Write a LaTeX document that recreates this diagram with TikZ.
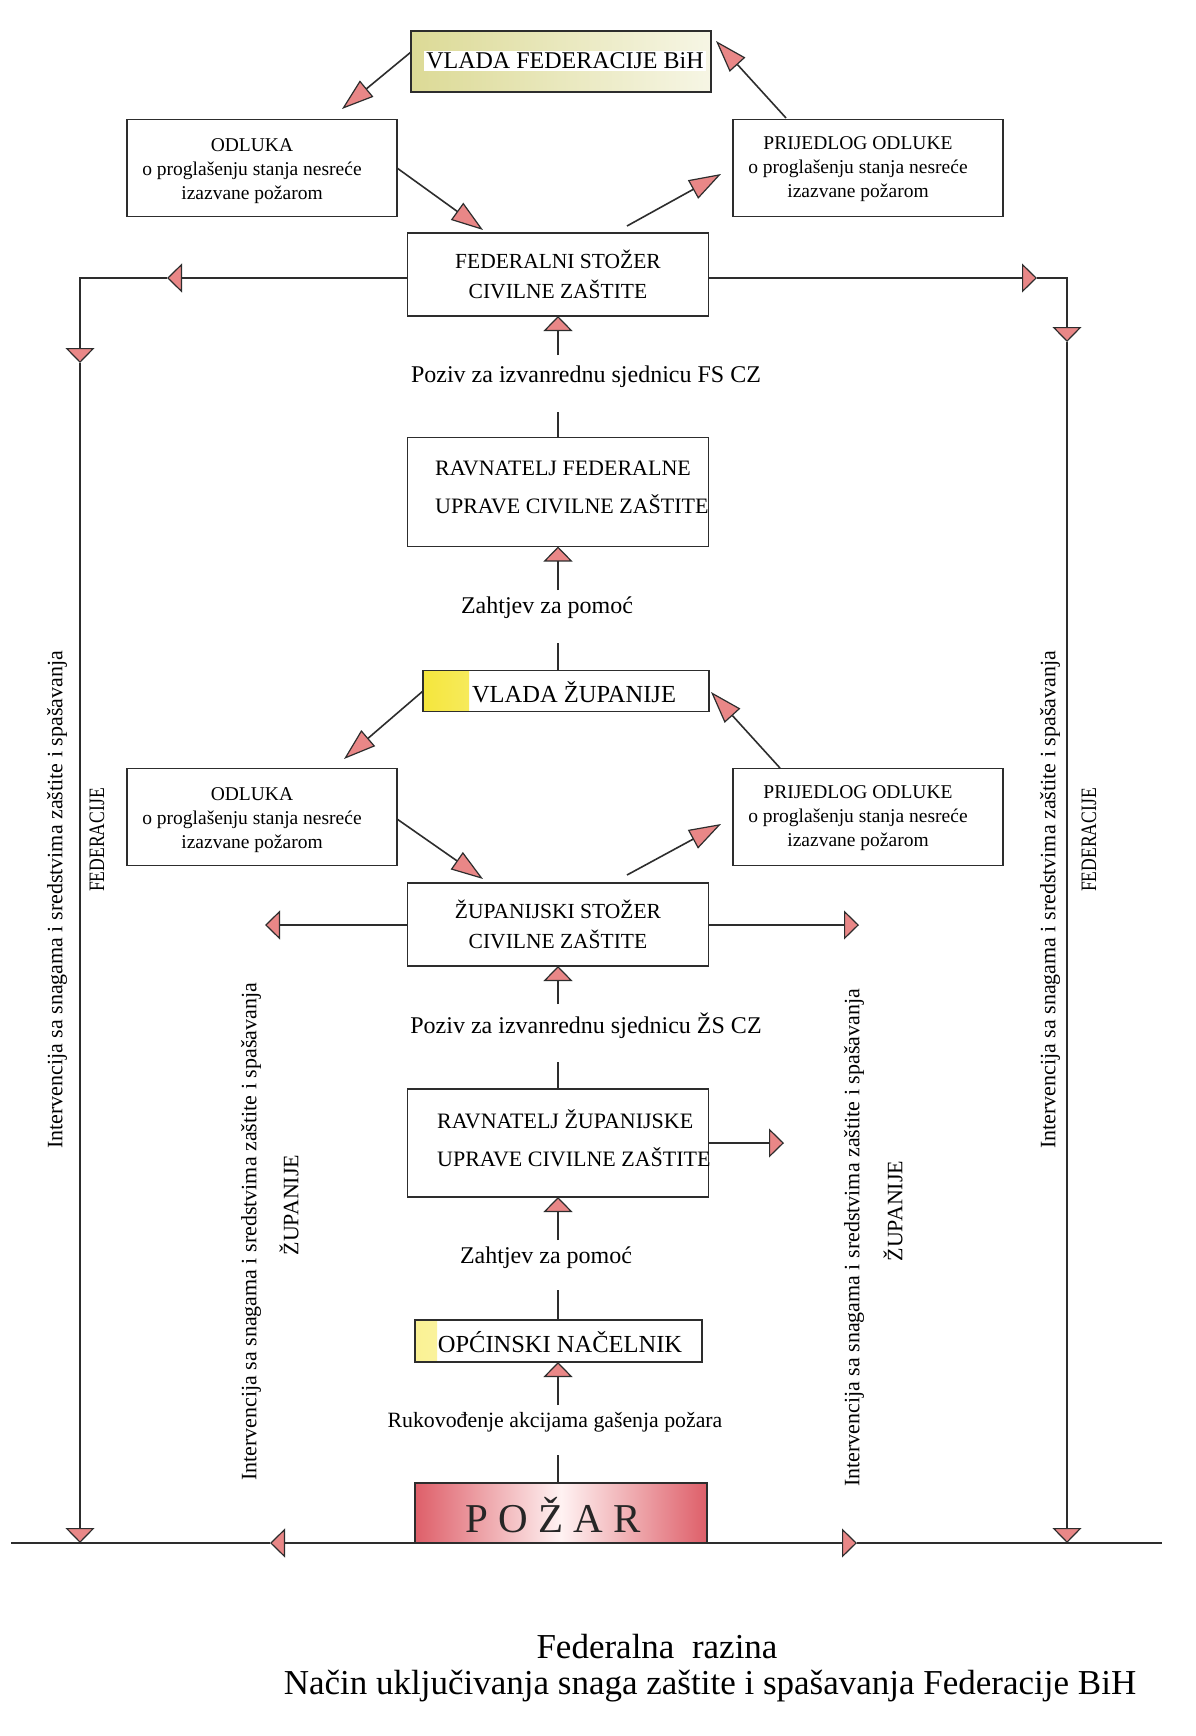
\documentclass[tikz,border=0pt]{standalone}
\usepackage{fontspec}
\setmainfont{Liberation Serif}
\usetikzlibrary{arrows.meta,calc}
\definecolor{linec}{RGB}{45,45,45}
\definecolor{arrfill}{RGB}{233,135,135}
\definecolor{olivey}{RGB}{220,218,150}
\definecolor{brighty}{RGB}{245,230,60}
\definecolor{firered}{RGB}{222,95,105}
\tikzset{
  lines/.style={draw=linec, line width=1.6pt},
  box/.style={draw=linec, line width=1.8pt, inner sep=0pt, outer sep=0pt, align=center},
  wide/.style={minimum width=301pt, minimum height=83pt},
  decbox/.style={minimum width=270pt, minimum height=97pt},
  dtxt/.style={inner sep=0pt, align=center, font=\fontsize{19.5}{24}\selectfont},
  arrH/.style={lines, -{Triangle[length=15pt,width=29pt,fill=arrfill,line width=1.2pt]}},
  arrD/.style={lines, -{Triangle[length=32pt,width=21pt,fill=arrfill,line width=1.2pt]}},
  lbl/.style={inner sep=0pt, font=\fontsize{24}{28}\selectfont},
  vtxt/.style={inner sep=0pt, rotate=90, font=\fontsize{22}{26}\selectfont},
}
\begin{document}
\begin{tikzpicture}[x=1pt,y=-1pt]
\useasboundingbox[fill=white] (0,0) rectangle (1195,1736);

% ---------- coordinates ----------
\coordinate (t1) at (342,109);
\coordinate (t2) at (483,230);
\coordinate (s3) at (627,226);
\coordinate (t3) at (721,174);
\coordinate (s4) at (786,118);
\coordinate (t4) at (716,41);
\coordinate (t5) at (344,759);
\coordinate (t6) at (483,879);
\coordinate (s7) at (627,875);
\coordinate (t7) at (721,824);
\coordinate (s8) at (780,768);
\coordinate (t8) at (711,692);

\coordinate (fl) at (167,278);
\coordinate (flc) at (80,278);
\coordinate (fld) at (80,363);
\coordinate (fr) at (1037,278);
\coordinate (frc) at (1067,278);
\coordinate (frd) at (1067,342);
\coordinate (bL0) at (11,1543);
\coordinate (bR0) at (1162,1543);
\coordinate (bLd) at (80,1543);
\coordinate (bRd) at (1067,1543);
\coordinate (bLa) at (270,1543);
\coordinate (bRa) at (857,1543);

\coordinate (zl) at (265,925);
\coordinate (zr) at (859,925);
\coordinate (rr) at (784,1143);

\coordinate (c1) at (558,355);
\coordinate (c2) at (558,412);
\coordinate (c3) at (558,590);
\coordinate (c4) at (558,643);
\coordinate (c5) at (558,1004);
\coordinate (c6) at (558,1062);
\coordinate (c7) at (558,1240);
\coordinate (c8) at (558,1290);
\coordinate (c9) at (558,1405);
\coordinate (c10) at (558,1455);

% ---------- federal level ----------
\node[box, minimum width=300pt, minimum height=61pt, left color=olivey, right color=olivey!25] (vf) at (561,61.5) {};
\node[fill=white, inner sep=2pt, font=\fontsize{24}{28}\selectfont] (vft) at (565,61) {VLADA FEDERACIJE BiH};

\node[box, decbox] (od1) at (262,168) {};
\node[dtxt] (od1t) at (252,171) {ODLUKA\\o proglašenju stanja nesreće\\izazvane požarom};
\node[box, decbox] (pr1) at (868,168) {};
\node[dtxt] (pr1t) at (858,169) {PRIJEDLOG ODLUKE\\o proglašenju stanja nesreće\\izazvane požarom};

\node[box, wide, font=\fontsize{21.5}{30}\selectfont] (fs) at (558,274.5) {FEDERALNI STOŽER\\CIVILNE ZAŠTITE};

\node[lbl] (lp1) at (586,377) {Poziv za izvanrednu sjednicu FS CZ};

\node[box, minimum width=301pt, minimum height=109pt] (rf) at (558,492) {};
\node[anchor=west, align=left, inner sep=0pt, font=\fontsize{22}{38}\selectfont] (rft) at (435,487) {RAVNATELJ FEDERALNE\\UPRAVE CIVILNE ZAŠTITE};

\node[lbl] (lz1) at (547,608) {Zahtjev za pomoć};

% ---------- county level ----------
\node[box, minimum width=286pt, minimum height=41pt,
  path picture={\shade[left color=brighty, right color=white]
    (path picture bounding box.south west) rectangle ([xshift=46pt]path picture bounding box.north west);}] (vz) at (566,691) {};
\node[inner sep=0pt, font=\fontsize{24.5}{28}\selectfont] (vzt) at (574,692) {VLADA ŽUPANIJE};

\node[box, decbox] (od2) at (262,817) {};
\node[dtxt] (od2t) at (252,820) {ODLUKA\\o proglašenju stanja nesreće\\izazvane požarom};
\node[box, decbox] (pr2) at (868,817) {};
\node[dtxt] (pr2t) at (858,818) {PRIJEDLOG ODLUKE\\o proglašenju stanja nesreće\\izazvane požarom};

\node[box, wide, font=\fontsize{21.5}{30}\selectfont] (zs) at (558,924.5) {ŽUPANIJSKI STOŽER\\CIVILNE ZAŠTITE};

\node[lbl] (lp2) at (586,1026) {Poziv za izvanrednu sjednicu ŽS CZ};

\node[box, minimum width=301pt, minimum height=108pt] (rz) at (558,1143) {};
\node[anchor=west, align=left, inner sep=0pt, font=\fontsize{22}{38}\selectfont] (rzt) at (437,1138) {RAVNATELJ ŽUPANIJSKE\\UPRAVE CIVILNE ZAŠTITE};

\node[lbl] (lz2) at (546,1258) {Zahtjev za pomoć};

% ---------- municipal level ----------
\node[box, minimum width=287pt, minimum height=42pt,
  path picture={\shade[left color=brighty!55, right color=white]
    (path picture bounding box.south west) rectangle ([xshift=22pt]path picture bounding box.north west);}] (on) at (558.5,1341) {};
\node[inner sep=0pt, font=\fontsize{24.5}{28}\selectfont] (ont) at (560,1342) {OPĆINSKI NAČELNIK};

\node[lbl, font=\fontsize{21.8}{26}\selectfont] (lr) at (555,1422) {Rukovođenje akcijama gašenja požara};

\node[box, minimum width=292pt, minimum height=60pt, left color=firered, right color=firered, middle color=white!95!red] (pz) at (561,1513) {};
\node[inner sep=0pt, text=black!85, font=\fontsize{41}{45}\selectfont] (pzt) at (553,1515) {P O Ž A R};

% ---------- vertical side texts ----------
\node[vtxt] (vL1) at (57,900) {Intervencija sa snagama i sredstvima zaštite i spašavanja};
\node[vtxt] (vL2) at (97,840) {\scalebox{0.8}[1]{FEDERACIJE}};
\node[vtxt] (vR1) at (1050,900) {Intervencija sa snagama i sredstvima zaštite i spašavanja};
\node[vtxt] (vR2) at (1089,840) {\scalebox{0.8}[1]{FEDERACIJE}};
\node[vtxt] (vI1) at (251,1232) {Intervencija sa snagama i sredstvima zaštite i spašavanja};
\node[vtxt] (vI2) at (289,1205) {ŽUPANIJE};
\node[vtxt] (vJ1) at (854,1238) {Intervencija sa snagama i sredstvima zaštite i spašavanja};
\node[vtxt] (vJ2) at (893,1211) {ŽUPANIJE};

% ---------- caption ----------
\node[inner sep=0pt, font=\fontsize{35}{40}\selectfont] (cap1) at (657,1647) {Federalna\ \ razina};
\node[inner sep=0pt, font=\fontsize{35}{40}\selectfont] (cap2) at (710,1686) {Način uključivanja snaga zaštite i spašavanja Federacije BiH};

% ---------- diagonal arrows ----------
\draw[arrD] ($(vf.west)+(0,-9.5)$) -- (t1);
\draw[arrD] (od1.east) -- (t2);
\draw[arrD] (s3) -- (t3);
\draw[arrD] (s4) -- (t4);
\draw[arrD] (vz.west) -- (t5);
\draw[arrD] ($(od2.east)+(0,2)$) -- (t6);
\draw[arrD] (s7) -- (t7);
\draw[arrD] (s8) -- (t8);

% ---------- central chain ----------
\draw[arrH] (c1) -- (c1 |- fs.south);
\draw[lines] (c2) -- (c2 |- rf.north);
\draw[arrH] (c3) -- (c3 |- rf.south);
\draw[lines] (c4) -- (c4 |- vz.north);
\draw[arrH] (c5) -- (c5 |- zs.south);
\draw[lines] (c6) -- (c6 |- rz.north);
\draw[arrH] (c7) -- (c7 |- rz.south);
\draw[lines] (c8) -- (c8 |- on.north);
\draw[arrH] (c9) -- (c9 |- on.south);
\draw[lines] (c10) -- (c10 |- pz.north);

% ---------- federal side lines ----------
\draw[arrH] (fl -| fs.west) -- (fl);
\draw[arrH] (fl) -- (flc) -- (fld);
\draw[arrH] (fld) -- (bLd);
\draw[arrH] (fr -| fs.east) -- (fr);
\draw[arrH] (fr) -- (frc) -- (frd);
\draw[arrH] (frd) -- (bRd);

% ---------- county side arrows ----------
\draw[arrH] (zl -| zs.west) -- (zl);
\draw[arrH] (zr -| zs.east) -- (zr);
\draw[arrH] (rr -| rz.east) -- (rr);

% ---------- bottom line ----------
\draw[arrH] (pz.south west) -- (bLa);
\draw[lines] (bLa) -- (bL0);
\draw[arrH] (pz.south east) -- (bRa);
\draw[lines] (bRa) -- (bR0);
\end{tikzpicture}
\end{document}
